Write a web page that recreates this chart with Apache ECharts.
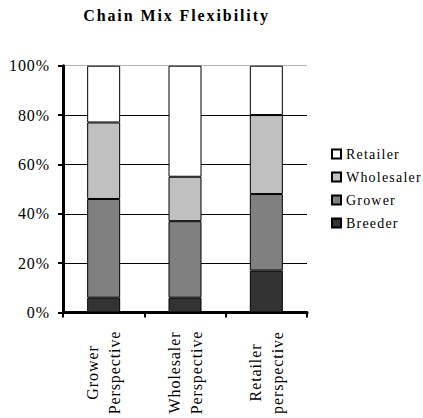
<!DOCTYPE html>
<html>
<head>
<meta charset="utf-8">
<script src="https://cdn.jsdelivr.net/npm/echarts@6/dist/echarts.min.js"></script>
<style>
  html, body { margin: 0; padding: 0; background: #fff; }
  #chart { width: 423px; height: 418px; }
  /* spaced-out serif lettering */
  #chart text[style*="16px"] { letter-spacing: 0.9px; }
  #chart text[style*="14px"] { letter-spacing: 1.2px; }
  #chart text[style*="bold"] { letter-spacing: 1.9px; }
</style>
</head>
<body>
<div id="chart"></div>
<script>
// Perspectives along the x axis
var categories = ['Grower\nPerspective', 'Wholesaler\nPerspective', 'Retailer\nperspective'];

// Share of the chain (percent) held by each segment, per perspective
var breeder    = [6, 6, 17];
var grower     = [40, 31, 31];
var wholesaler = [31, 18, 32];
var retailer   = [23, 45, 20];

// Y axis tick values
var yTicks = [0, 20, 40, 60, 80, 100];

var serif = 'Liberation Serif';

var segments = [
  { name: 'Breeder',    data: breeder,    color: '#333333' },
  { name: 'Grower',     data: grower,     color: '#808080' },
  { name: 'Wholesaler', data: wholesaler, color: '#c0c0c0' },
  { name: 'Retailer',   data: retailer,   color: '#ffffff' }
];

var chart = echarts.init(document.getElementById('chart'), null, { renderer: 'svg' });

chart.setOption({
  animation: false,
  backgroundColor: '#ffffff',
  textStyle: { fontFamily: serif },
  graphic: [{
    type: 'text',
    x: 176.5,
    y: 15.5,
    style: {
      text: 'Chain Mix Flexibility',
      fontFamily: serif,
      fontWeight: 'bold',
      fontSize: 16,
      fill: '#000',
      align: 'center',
      verticalAlign: 'middle'
    }
  }],
  legend: {
    orient: 'vertical',
    left: 326,
    top: 141,
    itemWidth: 9,
    itemHeight: 9,
    itemGap: 7,
    icon: 'rect',
    data: segments.map(function (s) { return s.name; }).reverse(),
    textStyle: { fontFamily: serif, fontSize: 14, color: '#000', lineHeight: 16 }
  },
  grid: { left: 63, right: 116, top: 65.7, bottom: 105.5, containLabel: false },
  xAxis: {
    type: 'category',
    data: categories,
    axisLine: { lineStyle: { color: '#000', width: 3 } },
    axisTick: { show: true, length: 5, lineStyle: { color: '#000', width: 2 } },
    axisLabel: {
      interval: 0,
      rotate: 90,
      align: 'center',
      verticalAlign: 'middle',
      margin: 60,
      fontFamily: serif,
      fontSize: 16,
      lineHeight: 22,
      color: '#000'
    }
  },
  yAxis: {
    type: 'value',
    min: yTicks[0],
    max: yTicks[yTicks.length - 1],
    interval: yTicks[1] - yTicks[0],
    axisLine: { show: true, lineStyle: { color: '#000', width: 3 } },
    axisTick: { show: true, length: 5, lineStyle: { color: '#000', width: 2 } },
    axisLabel: {
      formatter: '{value}%',
      margin: 13,
      fontFamily: serif,
      fontSize: 16,
      color: '#000'
    },
    splitLine: {
      show: true,
      lineStyle: { color: ['#000', '#000', '#000', '#000', '#000', '#b4b4b4'], width: 1 }
    }
  },
  series: segments.map(function (s) {
    return {
      name: s.name,
      type: 'bar',
      stack: 'mix',
      barWidth: 33,
      data: s.data,
      itemStyle: { color: s.color, borderColor: '#000', borderWidth: 1 }
    };
  })
});
</script>
</body>
</html>
